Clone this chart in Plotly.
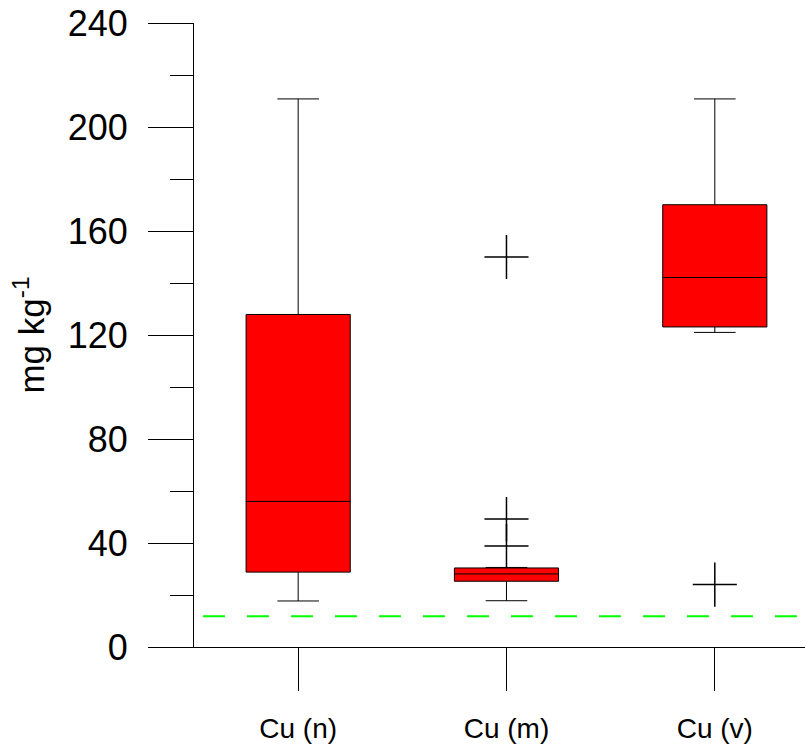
import plotly.graph_objects as go

categories = ["Cu (n)", "Cu (m)", "Cu (v)"]
lower_whisker = [17.7, 17.8, 121.0]
q1_vals = [28.8, 25.3, 123.1]
median_vals = [56.0, 28.1, 142.1]
q3_vals = [127.9, 30.4, 170.1]
upper_whisker = [210.8, 30.6, 210.8]

outlier_cats = ["Cu (m)", "Cu (m)", "Cu (m)", "Cu (v)"]
outlier_vals = [150.0, 49.2, 38.8, 24.0]

reference_level = 11.8
y_ticks = [0, 40, 80, 120, 160, 200, 240]

fig = go.Figure()

fig.add_trace(go.Box(
    x=categories,
    q1=q1_vals,
    median=median_vals,
    q3=q3_vals,
    lowerfence=lower_whisker,
    upperfence=upper_whisker,
    fillcolor="#FF0000",
    line=dict(color="black", width=1),
    width=0.5,
    whiskerwidth=0.4,
    boxpoints=False,
    showlegend=False,
    hoverinfo="skip",
))

fig.add_trace(go.Scatter(
    x=outlier_cats,
    y=outlier_vals,
    mode="markers",
    marker=dict(symbol="cross-thin-open", size=31.5,
                line=dict(color="black", width=1.5), color="black"),
    showlegend=False,
    hoverinfo="skip",
))

fig.add_shape(
    type="line", xref="x", yref="y",
    x0=-0.457, x1=2.433, y0=reference_level, y1=reference_level,
    line=dict(color="#00FF00", width=2, dash="22px,22px"),
)

fig.update_layout(
    width=805, height=748,
    margin=dict(l=194.3, r=0, t=22.7, b=101.3, autoexpand=False),
    paper_bgcolor="white", plot_bgcolor="white",
    font=dict(family="Liberation Sans, Arial, sans-serif", color="black"),
)

fig.update_xaxes(
    type="category",
    categoryorder="array", categoryarray=categories,
    range=[-0.5, 2.433],
    showline=True, linecolor="black", linewidth=1,
    ticks="outside", ticklen=43, tickcolor="black", tickwidth=1,
    tickfont=dict(size=28),
    ticklabelstandoff=13,
    showgrid=False, zeroline=False,
)

fig.update_yaxes(
    range=[0, 240],
    tickvals=y_ticks,
    showline=True, linecolor="black", linewidth=1,
    ticks="outside", ticklen=45, tickcolor="black", tickwidth=1,
    minor=dict(ticks="outside", ticklen=23, dtick=20, tick0=0,
               tickcolor="black", tickwidth=1, showgrid=False),
    tickfont=dict(size=36),
    ticklabelstandoff=13,
    title=dict(text="mg kg<sup>-1</sup>", font=dict(size=35), standoff=12),
    showgrid=False, zeroline=False,
)

fig.write_html("out.html")
